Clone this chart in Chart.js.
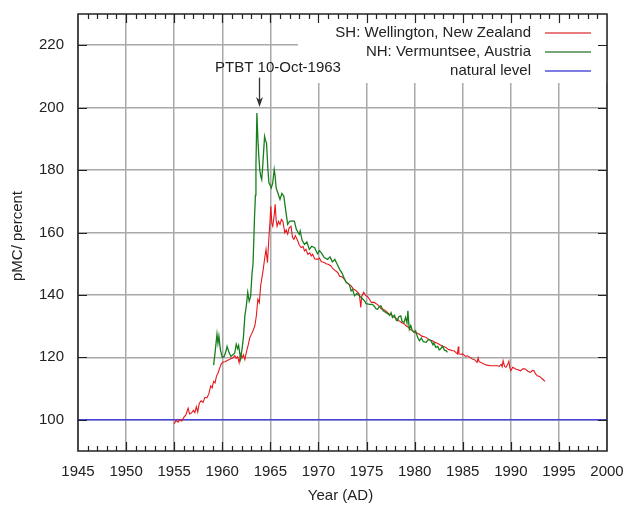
<!DOCTYPE html>
<html>
<head>
<meta charset="utf-8">
<script src="https://cdn.jsdelivr.net/npm/chart.js@4"></script>
<style>
html,body{margin:0;padding:0;background:#fff;}
canvas{display:block;}
</style>
</head>
<body>
<canvas id="c" width="624" height="505" style="width:624px;height:505px"></canvas>
<script>
// ---- data ----
const shYears = [1955.0,1955.2,1955.4,1955.6,1955.8,1956.0,1956.2,1956.45,1956.6,1956.8,1957.0,1957.15,1957.3,1957.45,1957.6,1957.8,1958.0,1958.2,1958.4,1958.6,1958.8,1958.95,1959.1,1959.25,1959.4,1959.55,1959.7,1959.9,1960.1,1960.3,1960.5,1960.7,1960.9,1961.1,1961.3,1961.45,1961.6,1961.75,1961.9,1962.05,1962.2,1962.35,1962.5,1962.7,1962.85,1963.0,1963.2,1963.4,1963.55,1963.7,1963.85,1964.0,1964.1,1964.25,1964.4,1964.55,1964.7,1964.85,1964.95,1965.05,1965.15,1965.25,1965.4,1965.5,1965.6,1965.7,1965.85,1966.0,1966.15,1966.3,1966.5,1966.65,1966.8,1966.95,1967.15,1967.3,1967.45,1967.6,1967.85,1968.0,1968.2,1968.4,1968.55,1968.7,1968.9,1969.1,1969.25,1969.4,1969.6,1969.9,1970.1,1970.3,1970.6,1970.8,1971.0,1971.3,1971.5,1971.75,1972.0,1972.2,1972.45,1972.7,1972.9,1973.1,1973.4,1973.6,1973.85,1974.1,1974.25,1974.4,1974.5,1974.7,1974.95,1975.1,1975.3,1975.5,1975.8,1976.0,1976.3,1976.5,1976.75,1977.0,1977.3,1977.5,1977.7,1978.0,1978.2,1978.4,1978.7,1978.9,1979.1,1979.35,1979.6,1979.8,1980.0,1980.25,1980.5,1980.75,1981.0,1981.2,1981.5,1981.85,1982.1,1982.3,1982.55,1982.8,1983.0,1983.25,1983.5,1983.7,1983.9,1984.1,1984.3,1984.45,1984.55,1984.6,1984.8,1985.0,1985.3,1985.5,1985.75,1986.0,1986.25,1986.5,1986.6,1986.7,1987.0,1987.2,1987.5,1987.9,1988.2,1988.6,1988.8,1989.0,1989.1,1989.2,1989.35,1989.5,1989.65,1989.8,1989.9,1990.0,1990.2,1990.5,1990.75,1991.0,1991.3,1991.55,1991.8,1992.05,1992.25,1992.4,1992.6,1992.75,1993.0,1993.2,1993.35,1993.55];
const shValues = [98.7,99.8,99.2,100.0,99.6,100.8,101.5,103.7,101.9,102.2,103.0,102.3,104.2,102.5,105.2,106.1,105.6,107.2,107.0,108.3,110.9,110.2,112.3,111.8,114.0,114.9,116.3,117.9,118.5,118.6,119.0,119.2,119.6,119.8,120.5,119.7,120.2,118.3,121.0,119.8,120.8,119.3,121.6,124.0,126.2,127.2,128.5,130.3,133.5,138.6,137.5,143.2,145.0,148.0,151.5,154.6,150.3,158.5,163.0,168.4,163.0,162.0,165.5,169.0,164.0,162.0,163.6,162.6,164.2,163.6,159.9,160.8,159.5,161.5,162.0,158.5,157.8,159.0,157.3,156.0,155.2,155.5,154.1,154.6,153.0,153.5,152.5,153.0,151.6,151.4,151.8,150.6,150.4,150.0,149.8,149.3,148.4,147.8,147.2,146.0,145.8,145.0,144.0,143.6,142.9,142.0,141.5,140.8,140.2,136.0,139.6,140.8,139.7,139.5,138.6,137.6,137.6,137.2,136.5,135.6,135.4,134.9,134.0,133.8,133.3,132.6,132.2,131.7,131.0,130.8,130.1,129.6,128.8,128.5,128.0,127.8,127.4,126.8,126.6,126.4,125.6,125.3,124.8,124.6,124.2,123.7,123.5,123.2,122.5,122.4,122.1,122.1,121.5,121.1,123.5,121.1,121.0,121.1,120.3,120.5,120.0,119.5,119.2,118.4,119.8,118.6,118.2,117.9,117.5,117.3,117.3,117.3,117.1,117.8,117.0,118.9,117.1,116.8,117.6,118.8,116.6,115.7,116.8,116.3,116.0,115.7,116.4,116.2,115.5,115.2,115.8,115.7,114.6,114.1,113.9,113.3,112.9,112.3];

const nhYears = [1959.1,1959.25,1959.45,1959.55,1959.65,1959.8,1960.0,1960.2,1960.4,1960.5,1960.7,1960.9,1961.1,1961.3,1961.45,1961.6,1961.7,1961.9,1962.05,1962.2,1962.35,1962.5,1962.65,1962.8,1962.95,1963.1,1963.2,1963.35,1963.45,1963.5,1963.6,1963.7,1963.8,1963.9,1964.0,1964.1,1964.2,1964.3,1964.4,1964.5,1964.6,1964.75,1964.85,1965.0,1965.1,1965.25,1965.4,1965.5,1965.6,1965.8,1966.0,1966.2,1966.4,1966.6,1966.8,1967.0,1967.3,1967.5,1967.7,1968.0,1968.1,1968.3,1968.55,1968.8,1969.05,1969.3,1969.6,1969.9,1970.1,1970.3,1970.6,1970.95,1971.2,1971.45,1971.7,1971.95,1972.2,1972.45,1972.7,1972.9,1973.2,1973.4,1973.55,1973.75,1974.0,1974.25,1974.5,1974.8,1974.95,1975.3,1975.6,1975.8,1976.0,1976.15,1976.3,1976.5,1976.7,1977.0,1977.2,1977.4,1977.55,1977.7,1977.9,1978.1,1978.2,1978.35,1978.55,1978.7,1978.9,1979.05,1979.2,1979.3,1979.4,1979.45,1979.6,1979.75,1979.95,1980.1,1980.3,1980.5,1980.7,1980.9,1981.2,1981.45,1981.7,1981.9,1982.0,1982.2,1982.4,1982.55,1982.7,1982.9,1983.1,1983.3,1983.4];
const nhValues = [117.5,121.5,127.4,124.5,126.8,122.5,120.0,120.3,122.1,123.5,121.6,120.3,120.8,121.4,124.2,122.8,123.8,119.5,122.5,126.5,133.3,136.5,140.8,138.0,139.5,147.2,150.0,164.7,172.0,181.2,198.3,190.0,184.4,180.0,178.0,177.0,181.0,186.0,190.8,189.5,188.7,180.0,175.9,175.0,174.3,176.0,180.2,178.0,174.3,172.5,170.6,172.5,171.6,167.0,162.6,163.6,163.7,163.6,161.0,159.4,160.5,157.5,156.2,157.0,154.6,155.6,155.1,153.2,154.2,153.5,152.0,151.4,152.2,150.6,151.4,149.8,148.2,147.0,145.2,144.0,143.4,141.3,141.8,139.7,140.5,139.7,139.0,138.1,137.2,137.0,137.0,136.4,135.5,135.4,136.2,136.5,135.0,134.4,134.0,133.4,134.3,132.8,133.5,131.9,131.7,133.0,133.3,131.5,131.2,132.8,131.0,134.9,130.5,129.0,130.2,128.6,128.0,128.5,126.5,125.3,126.2,125.0,124.8,125.8,125.3,124.0,124.6,123.2,123.5,122.4,122.7,123.6,122.3,122.1,121.6];

const naturalYears = [1945, 2000];
const naturalValues = [100, 100];

const xTickValues = [1945,1950,1955,1960,1965,1970,1975,1980,1985,1990,1995,2000];
const yTickValues = [100,120,140,160,180,200,220];
const seriesLabels = ['SH: Wellington, New Zealand', 'NH: Vermuntsee, Austria', 'natural level'];
const seriesColors = ['#e8161b', '#17801c', '#4444d8'];
const legendColors = ['#e05050', '#4a8a4a', '#5050d8'];
const annotationText = 'PTBT 10-Oct-1963';
const ptbtDate = 1963.78;

function pts(xs, ys){ return xs.map((x,i)=>({x:x, y:ys[i]})); }

const FONT = '"Liberation Sans", Arial, sans-serif';
const TXT = '#222';

function noPad(s){ s.paddingTop = 0; s.paddingBottom = 0; s.paddingLeft = 0; s.paddingRight = 0; }

const overlay = {
  id: 'overlay',
  beforeDatasetsDraw(chart){
    const {ctx, chartArea:a} = chart;
    ctx.save();
    ctx.fillStyle = '#fff';
    ctx.fillRect(298, a.top, a.right - 298, 83 - a.top);
    ctx.restore();
  },
  afterDraw(chart){
    const {ctx, chartArea:a, scales:{x, y}} = chart;
    ctx.save();
    // border
    ctx.strokeStyle = '#222';
    ctx.lineWidth = 1.5;
    ctx.strokeRect(a.left, a.top, a.right - a.left, a.bottom - a.top);
    // ticks
    ctx.lineWidth = 1.2;
    ctx.beginPath();
    for (let yr = 1946; yr < 2000; yr++) {
      const px = Math.round(x.getPixelForValue(yr)) + 0.5;
      const len = (yr % 5 === 0) ? 9 : 5;
      ctx.moveTo(px, a.bottom); ctx.lineTo(px, a.bottom - len);
      ctx.moveTo(px, a.top); ctx.lineTo(px, a.top + len);
    }
    yTickValues.forEach(v => {
      const py = Math.round(y.getPixelForValue(v)) + 0.5;
      ctx.moveTo(a.left, py); ctx.lineTo(a.left + 9, py);
      ctx.moveTo(a.right, py); ctx.lineTo(a.right - 9, py);
    });
    ctx.stroke();

    // legend
    ctx.font = '15px ' + FONT;
    ctx.textAlign = 'right';
    ctx.textBaseline = 'middle';
    const rows = [33, 52, 71];
    seriesLabels.forEach((lab, i) => {
      ctx.fillStyle = TXT;
      ctx.fillText(lab, 531, rows[i]);
      ctx.strokeStyle = legendColors[i];
      ctx.lineWidth = 1.5;
      ctx.beginPath();
      ctx.moveTo(545, rows[i]); ctx.lineTo(591, rows[i]);
      ctx.stroke();
    });

    // annotation
    ctx.fillStyle = TXT;
    ctx.textAlign = 'left';
    ctx.fillText(annotationText, x.getPixelForValue(1959.25), y.getPixelForValue(212.7));
    const ax = Math.round(x.getPixelForValue(ptbtDate)) + 0.5;
    const ay0 = y.getPixelForValue(209.6);
    const ay1 = y.getPixelForValue(200.2);
    ctx.strokeStyle = '#333';
    ctx.lineWidth = 1.3;
    ctx.beginPath();
    ctx.moveTo(ax, ay0); ctx.lineTo(ax, ay1 - 6);
    ctx.stroke();
    ctx.fillStyle = '#333';
    ctx.beginPath();
    ctx.moveTo(ax, ay1);
    ctx.lineTo(ax - 3.5, ay1 - 10);
    ctx.lineTo(ax, ay1 - 7);
    ctx.lineTo(ax + 3.5, ay1 - 10);
    ctx.closePath();
    ctx.fill();

    // axis titles
    ctx.fillStyle = TXT;
    ctx.textAlign = 'center';
    ctx.textBaseline = 'middle';
    ctx.fillText('Year (AD)', (a.left + a.right) / 2 - 2, 496);
    ctx.translate(18, 236);
    ctx.rotate(-Math.PI / 2);
    ctx.fillText('pMC/ percent', 0, 0);
    ctx.restore();
  }
};

new Chart(document.getElementById('c'), {
  type: 'scatter',
  data: {
    datasets: [
      { label: seriesLabels[1], data: pts(nhYears, nhValues), showLine: true, borderColor: seriesColors[1], borderWidth: 1.3, pointRadius: 0, tension: 0, order: 1 },
      { label: seriesLabels[0], data: pts(shYears, shValues), showLine: true, borderColor: seriesColors[0], borderWidth: 1.1, pointRadius: 0, tension: 0, order: 2 },
      { label: seriesLabels[2], data: pts(naturalYears, naturalValues), showLine: true, borderColor: seriesColors[2], borderWidth: 1.5, pointRadius: 0, tension: 0, order: 3 }
    ]
  },
  options: {
    responsive: false,
    animation: false,
    devicePixelRatio: 1,
    layout: { padding: { top: 14, right: 17, left: 0, bottom: 0 } },
    plugins: { legend: { display: false }, tooltip: { enabled: false } },
    scales: {
      x: {
        type: 'linear', min: 1945, max: 2000,
        afterBuildTicks: s => { s.ticks = xTickValues.map(v => ({ value: v })); },
        afterFit: s => { s.height = 54; noPad(s); },
        grid: { color: '#a8a8a8', lineWidth: 1.5, drawTicks: false },
        border: { display: false },
        ticks: { padding: 12, color: TXT, font: { family: FONT, size: 15 }, maxRotation: 0, autoSkip: false, callback: v => String(v) }
      },
      y: {
        type: 'linear', min: 90, max: 230,
        afterBuildTicks: s => { s.ticks = yTickValues.map(v => ({ value: v })); },
        afterFit: s => { s.width = 78; noPad(s); },
        grid: { color: '#a8a8a8', lineWidth: 1.5, drawTicks: false },
        border: { display: false },
        ticks: { padding: 14, color: TXT, font: { family: FONT, size: 15 }, autoSkip: false, callback: v => String(v) }
      }
    }
  },
  plugins: [overlay]
});
</script>
</body>
</html>
